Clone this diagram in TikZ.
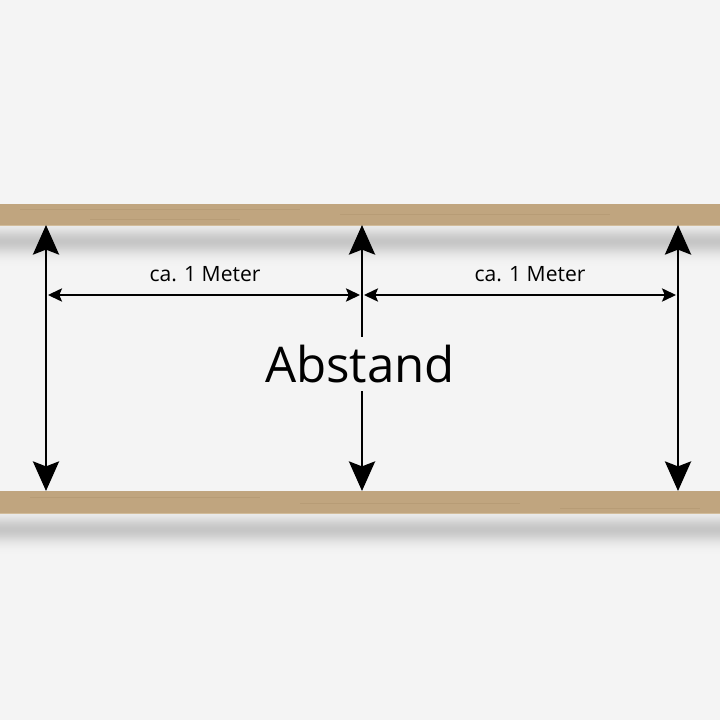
\documentclass[tikz,border=0pt]{standalone}
\usepackage{fontspec}
\setmainfont{Open Sans}
\usetikzlibrary{arrows.meta,positioning,calc}
\definecolor{bg}{HTML}{F4F4F4}
\definecolor{wood}{HTML}{C0A57F}
\definecolor{wooddk}{HTML}{A88C68}
\definecolor{woodedge}{HTML}{D2BC9A}
\definecolor{shadowgray}{HTML}{C6C6C6}
\tikzset{board/.style={fill=wood},
  grain/.style={draw=wooddk,line width=.4pt,opacity=.35},
  span/.style={line width=2.1pt,{Stealth[length=21pt,width=18.5pt,inset=3.5pt]}-{Stealth[length=21pt,width=18.5pt,inset=3.5pt]}},
  meter/.style={line width=1pt,{Stealth[length=10pt,width=9.5pt,inset=2pt]}-{Stealth[length=10pt,width=9.5pt,inset=2pt]}},
  lab/.style={font=\fontsize{15}{18}\selectfont,inner sep=0pt},
  biglab/.style={font=\fontsize{35}{40}\selectfont,fill=bg,inner xsep=2pt,inner ysep=6pt}}
\begin{document}
\begin{tikzpicture}[x=0.025cm,y=-0.025cm]
\useasboundingbox (0,0) rectangle (720,720);
\fill[bg] (0,0) rectangle (720,720);
% shadows
\foreach \i in {0,...,44}{
 \pgfmathtruncatemacro{\p}{100*exp(-((\i-16)/12.5)^2)}
 \fill[shadowgray!\p!bg] (0,225+\i) rectangle (720,226.2+\i);
 \fill[shadowgray!\p!bg] (0,513+\i) rectangle (720,514.2+\i);
}
% boards
\fill[board] (0,204) rectangle (720,225);
\fill[board] (0,491) rectangle (720,513);
\draw[woodedge,line width=.6pt] (0,225) -- (720,225) (0,513) -- (720,513);
\foreach \y/\a/\b in {209/20/300,214/340/610,219/90/240,497/30/260,503/300/520,508/560/700}
 \draw[grain] (\a,\y) -- (\b,\y);
% end points
\coordinate (t1) at (46,225);  \coordinate (b1) at (46,491);
\coordinate (t2) at (362,225); \coordinate (b2) at (362,491);
\coordinate (t3) at (678,225); \coordinate (b3) at (678,491);
\coordinate (m1) at (48,295);  \coordinate (m2) at (360,295);
\coordinate (m3) at (364,295); \coordinate (m4) at (676,295);
\draw[span] (t1) -- (b1);
\draw[span] (t2) -- (b2);
\draw[span] (t3) -- (b3);
\draw[meter] (m1) -- (m2);
\draw[meter] (m3) -- (m4);
\node[lab] (left) at (205,274) {ca. 1 Meter};
\node[lab] (right) at (530,274) {ca. 1 Meter};
\node[biglab] (abst) at (360,364) {Abstand};
\end{tikzpicture}
\end{document}
